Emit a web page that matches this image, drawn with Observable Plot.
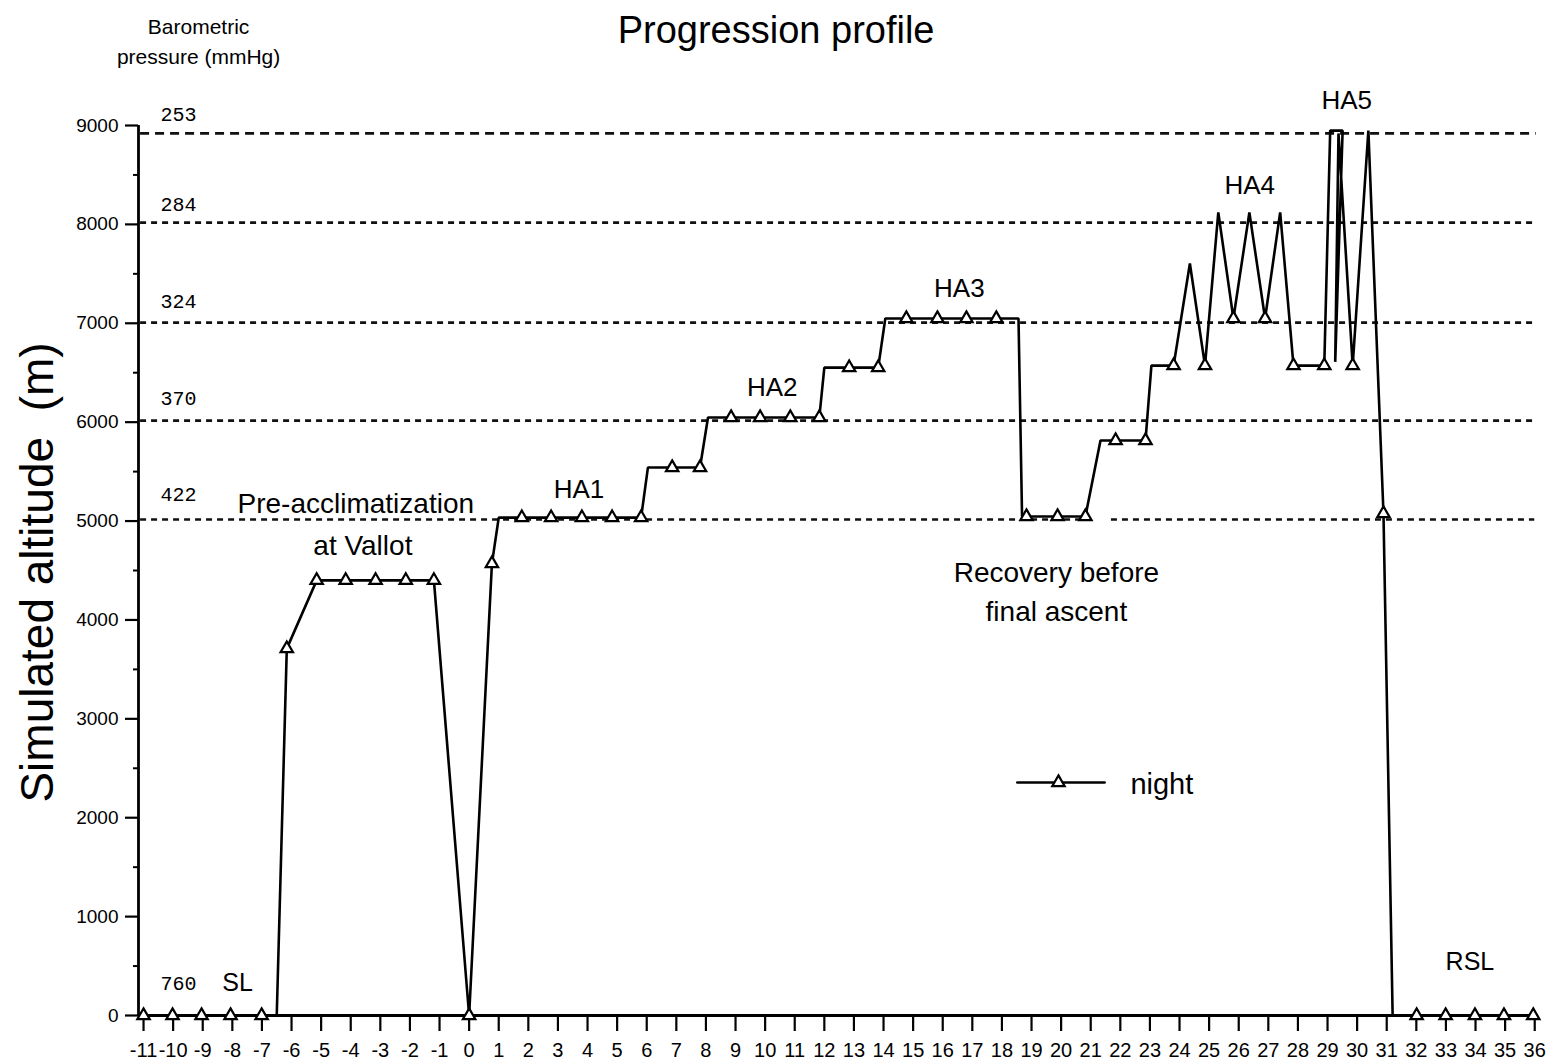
<!DOCTYPE html>
<html>
<head>
<meta charset="utf-8">
<script src="https://cdn.jsdelivr.net/npm/d3@7"></script>
<script src="https://cdn.jsdelivr.net/npm/@observablehq/plot@0.6"></script>
<style>
  html, body { margin: 0; padding: 0; background: #fff; }
  #chart svg { display: block; }
</style>
</head>
<body>
<div id="chart"></div>
<script>
// ---- Profile path (day, simulated altitude m); night = 1 marks a night measurement (triangle)
const days = [
  -11, -10.02, -9.04, -8.06, -7.01, -6.5,
  -6.16, -5.15, -4.17, -3.16, -2.14, -1.19,
  0, 0.77, 1.0, 1.78, 2.77, 3.81, 4.83, 5.81,
  6.04, 6.86, 7.80, 8.07, 8.85, 9.83, 10.85, 11.83,
  12.0, 12.84, 13.82, 14.06, 14.77, 15.82, 16.80, 17.81,
  18.56, 18.68, 18.83, 19.88, 20.82, 21.33, 21.84, 22.85,
  23.05, 23.80, 24.35, 24.86, 25.31, 25.82, 26.36, 26.89, 27.40, 27.85,
  28.89, 29.09, 29.51, 29.26, 29.37, 29.85, 30.38, 30.89, 31.20,
  32.01, 32.99, 33.98, 34.96, 35.95
];
const altitude = [
  0, 0, 0, 0, 0, 0,
  3710, 4400, 4400, 4400, 4400, 4400,
  0, 4570, 5035, 5035, 5035, 5035, 5035, 5035,
  5541, 5541, 5541, 6047, 6047, 6047, 6047, 6047,
  6552, 6552, 6552, 7048, 7048, 7048, 7048, 7048,
  7048, 5046, 5046, 5046, 5046, 5814, 5814, 5814,
  6572, 6572, 7604, 6572, 8122, 7048, 8122, 7048, 8122, 6572,
  6572, 8948, 8948, 6610, 8920, 6572, 8948, 5076, 0,
  0, 0, 0, 0, 0
];
const night = [
  1, 1, 1, 1, 1, 0,
  1, 1, 1, 1, 1, 1,
  1, 1, 0, 1, 1, 1, 1, 1,
  0, 1, 1, 0, 1, 1, 1, 1,
  0, 1, 1, 0, 1, 1, 1, 1,
  0, 0, 1, 1, 1, 0, 1, 1,
  0, 1, 0, 1, 0, 1, 0, 1, 0, 1,
  1, 0, 0, 0, 0, 1, 0, 1, 0,
  1, 1, 1, 1, 1
];

// ---- Reference altitudes with barometric pressure (mmHg)
const refAltitude = [8920, 8018, 7007, 6016, 5015];
const pressureLabels = ["253", "284", "324", "370", "422"];
const seaLevelPressure = "760";

// ---- Axis ticks
const xTicks = d3.range(-11, 37);
const yTicks = d3.range(0, 9001, 1000);
const yMinorTicks = d3.range(500, 9000, 1000);

// ---- Texts
const titleText = "Progression profile";
const pressureTitle = ["Barometric", "pressure (mmHg)"];
const yLabel = "Simulated altitude  (m)";
const phaseLabels = ["Pre-acclimatization", "at Vallot", "HA1", "HA2", "HA3", "HA4", "HA5",
                     "Recovery before", "final ascent"];
const endLabels = ["SL", "RSL"];
const legendLabel = "night";

// ---- Layout of labels (data coordinates: day, altitude)
const phasePos = [[-3.83, 5177], [-3.59, 4752], [3.71, 5318], [10.24, 6350], [16.56, 7351],
                  [26.37, 8392], [29.65, 9252], [19.84, 4479], [19.84, 4075]];
const pressurePos = [9110, 8200, 7219, 6239, 5268];
const endPos = [[-7.82, 324], [33.81, 536]];

const rows = days.map((d, i) => ({day: d, alt: altitude[i], night: night[i]}));
const nights = rows.filter(r => r.night === 1);

const refSegments = [
  {alt: refAltitude[0], x1: -11.1, x2: 36.05},
  {alt: refAltitude[1], x1: -11.1, x2: 36.0},
  {alt: refAltitude[2], x1: -11.1, x2: 36.0},
  {alt: refAltitude[3], x1: -11.1, x2: 36.0},
  {alt: refAltitude[4], x1: -11.1, x2: 20.92},
  {alt: refAltitude[4], x1: 21.70, x2: 36.0}
];

const phaseRows = phaseLabels.map((t, i) => ({t, x: phasePos[i][0], y: phasePos[i][1]}));
const pressRows = pressureLabels.map((t, i) => ({t, x: -10.43, y: pressurePos[i]}))
  .concat([{t: seaLevelPressure, x: -10.43, y: 324}]);
const endRows = endLabels.map((t, i) => ({t, x: endPos[i][0], y: endPos[i][1]}));

const legendLine = [{day: 18.52, alt: 2356}, {day: 21.47, alt: 2356}];
const legendMark = [{day: 19.91, alt: 2356}];

const font = "'Liberation Sans', Arial, Helvetica, sans-serif";

const chart = Plot.plot({
  width: 1558,
  height: 1063,
  marginLeft: 138,
  marginRight: 22,
  marginTop: 125,
  marginBottom: 48,
  x: {domain: [-11.17, 36.06]},
  y: {domain: [0, 9000]},
  style: {fontFamily: font, background: "#fff", color: "#000", overflow: "visible"},
  marks: [
    // dashed reference altitudes
    Plot.ruleY(refSegments.slice(0, 1), {y: "alt", x1: "x1", x2: "x2", stroke: "#111", strokeWidth: 2.6, strokeDasharray: "9,6"}),
    Plot.ruleY(refSegments.slice(1), {y: "alt", x1: "x1", x2: "x2", stroke: "#111", strokeWidth: 2.6, strokeDasharray: "6,5"}),
    // axes
    Plot.axisX({ticks: xTicks, tickFormat: d => String(d), tickSize: 16, tickPadding: 11, fontSize: 20, strokeWidth: 2.2, label: null}),
    Plot.axisY({ticks: yTicks, tickFormat: d => String(d), tickSize: 13, tickPadding: 7, fontSize: 19, strokeWidth: 2.2, label: null}),
    Plot.axisY({ticks: yMinorTicks, tickFormat: () => "", tickSize: 5, strokeWidth: 2, label: null}),
    Plot.ruleY([0], {stroke: "#000", strokeWidth: 2.8}),
    Plot.ruleX([-11.17], {stroke: "#000", strokeWidth: 2.8}),
    // profile
    Plot.line(rows, {x: "day", y: "alt", stroke: "#000", strokeWidth: 2.6, strokeLinejoin: "miter", curve: "linear"}),
    Plot.dot(nights, {x: "day", y: "alt", symbol: "triangle", r: 4.6, fill: "#fff", stroke: "#000", strokeWidth: 2.2}),
    // legend
    Plot.line(legendLine, {x: "day", y: "alt", stroke: "#000", strokeWidth: 2.6}),
    Plot.dot(legendMark, {x: "day", y: "alt", symbol: "triangle", r: 4.6, fill: "#fff", stroke: "#000", strokeWidth: 2.2}),
    Plot.text([legendLabel], {x: 22.34, y: 2330, text: d => d, textAnchor: "start", fontSize: 29, fill: "#000"}),
    // texts
    Plot.text([titleText], {x: 10.37, y: 9960, text: d => d, fontSize: 38, fill: "#000"}),
    Plot.text(pressureTitle, {x: -9.14, y: (d, i) => [9990, 9687][i], text: d => d, fontSize: 21, fill: "#000"}),
    Plot.text([yLabel], {x: -14.55, y: 4480, text: d => d, rotate: -90, fontSize: 46, fill: "#000"}),
    Plot.text(phaseRows.filter(r => r.t.startsWith("HA")), {x: "x", y: "y", text: "t", fontSize: 26, fill: "#000"}),
    Plot.text(phaseRows.filter(r => !r.t.startsWith("HA")), {x: "x", y: "y", text: "t", fontSize: 28, fill: "#000"}),
    Plot.text(pressRows, {x: "x", y: "y", text: "t", textAnchor: "start", fontSize: 20, fontFamily: "'Liberation Mono', 'DejaVu Sans Mono', monospace", fill: "#000"}),
    Plot.text(endRows, {x: "x", y: "y", text: "t", fontSize: 25, fill: "#000"})
  ]
});
document.getElementById("chart").appendChild(chart);
</script>
</body>
</html>
